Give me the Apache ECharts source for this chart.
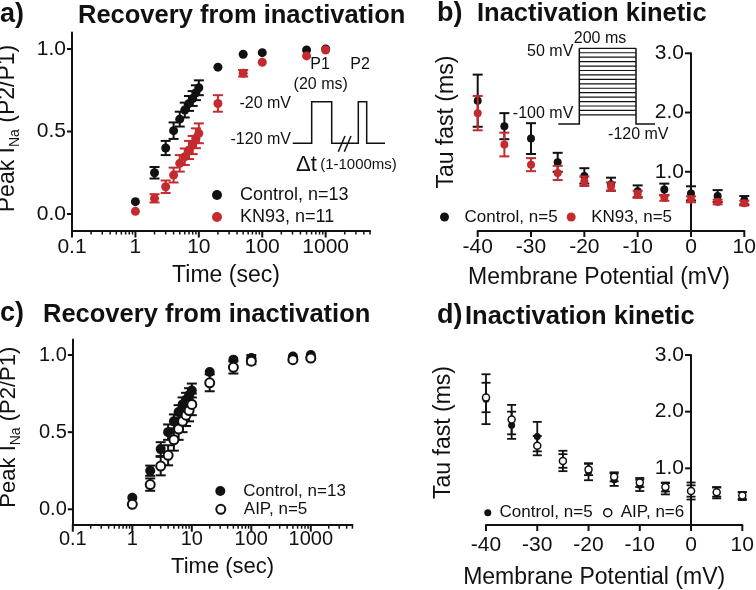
<!DOCTYPE html>
<html><head><meta charset="utf-8">
<script src="https://cdn.jsdelivr.net/npm/echarts@6/dist/echarts.min.js"></script>
<style>html,body{margin:0;padding:0;background:#fff}#c{width:756px;height:590px}</style>
</head><body><div id="c"></div>
<script>
const FONT = '"Liberation Sans", Arial, Helvetica, sans-serif';
const BLACK = '#111111';
const RED = '#c42a2e';

// ---- Panels a & c : recovery from inactivation ----
const recoveryTimes = [1, 2, 3, 4, 5, 6, 7, 8, 9, 10, 20, 50, 100, 500, 1000];
const controlRecA    = [0.075, 0.25, 0.40, 0.505, 0.575, 0.63, 0.67, 0.70, 0.735, 0.765, 0.89, 0.968, 0.978, 0.994, 1.0];
const controlRecAErr = [0, 0.035, 0.043, 0.05, 0.045, 0.045, 0.045, 0.045, 0.045, 0.045, 0, 0, 0, 0, 0];
const kn93RecA       = [0.016, 0.095, 0.165, 0.236, 0.307, 0.347, 0.388, 0.418, 0.459, 0.489, 0.67, 0.853, 0.92, 0.958, 0.994];
const kn93RecAErr    = [0, 0.025, 0.038, 0.045, 0.05, 0.05, 0.055, 0.055, 0.06, 0.06, 0.05, 0.02, 0, 0, 0];

const controlRecC    = [0.075, 0.25, 0.39, 0.50, 0.57, 0.63, 0.68, 0.71, 0.74, 0.77, 0.89, 0.97, 0.98, 0.99, 1.0];
const controlRecCErr = [0, 0.033, 0.045, 0.05, 0.045, 0.045, 0.045, 0.045, 0.045, 0.045, 0, 0, 0.02, 0, 0];
const aipRecC        = [0.032, 0.16, 0.28, 0.35, 0.45, 0.52, 0.57, 0.61, 0.64, 0.68, 0.82, 0.92, 0.96, 0.97, 0.98];
const aipRecCErr     = [0, 0.04, 0.06, 0.065, 0.07, 0.07, 0.07, 0.07, 0.07, 0.07, 0.055, 0.04, 0.02, 0.01, 0.01];

const logMajorTicks = [0.1, 1, 10, 100, 1000];
const logMinorTicks = [0.2, 0.3, 0.4, 0.5, 0.6, 0.7, 0.8, 0.9, 2, 3, 4, 5, 6, 7, 8, 9,
  20, 30, 40, 50, 60, 70, 80, 90, 200, 300, 400, 500, 600, 700, 800, 900, 2000, 3000, 4000, 5000];
const recoveryYTicks = [0, 0.5, 1.0];

// ---- Panels b & d : inactivation kinetic ----
const potentials   = [-40, -35, -30, -25, -20, -15, -10, -5, 0, 5, 10];
const controlTauB    = [2.20, 1.77, 1.56, 1.16, 0.93, 0.79, 0.67, 0.70, 0.635, 0.59, 0.52];
const controlTauBErr = [0.44, 0.22, 0.26, 0.16, 0.13, 0.11, 0.10, 0.10, 0.12, 0.10, 0.07];
const kn93TauB       = [1.99, 1.46, 1.12, 0.98, 0.84, 0.75, 0.62, 0.56, 0.535, 0.49, 0.47];
const kn93TauBErr    = [0.29, 0.20, 0.11, 0.12, 0.08, 0.07, 0.06, 0.05, 0.05, 0.04, 0.04];

const controlTauD    = [2.22, 1.76, 1.56, 1.13, 0.94, 0.80, 0.70, 0.64, 0.60, 0.57, 0.51];
const controlTauDErr = [0.44, 0.24, 0.26, 0.18, 0.15, 0.11, 0.10, 0.10, 0.15, 0.10, 0.07];
const aipTauD        = [2.25, 1.86, 1.40, 1.13, 0.98, 0.85, 0.75, 0.67, 0.60, 0.58, 0.52];
const aipTauDErr     = [0.26, 0.26, 0.17, 0.12, 0.10, 0.08, 0.08, 0.08, 0.10, 0.08, 0.06];
const tauYTicks = [1, 2, 3];
const mvTicks = [-40, -30, -20, -10, 0, 10];

// ---------------------------------------------
const chart = echarts.init(document.getElementById('c'), null, {renderer: 'canvas'});

function errSeries(name, xi, yi, xs, vals, errs, color, cap, lw, z) {
  return {
    type: 'custom', name: name, xAxisIndex: xi, yAxisIndex: yi, z: z,
    encode: {x: 0, y: [1, 2]}, silent: true,
    data: xs.map((x, i) => [x, vals[i] - errs[i], vals[i] + errs[i]]),
    renderItem: function (params, api) {
      const x = api.value(0), lo = api.value(1), hi = api.value(2);
      if (hi - lo < 1e-9) return null;
      const t = api.coord([x, hi]), b = api.coord([x, lo]);
      const st = {stroke: color, lineWidth: lw};
      return {type: 'group', children: [
        {type: 'line', shape: {x1: t[0], y1: t[1], x2: b[0], y2: b[1]}, style: st},
        {type: 'line', shape: {x1: t[0] - cap, y1: t[1], x2: t[0] + cap, y2: t[1]}, style: st},
        {type: 'line', shape: {x1: b[0] - cap, y1: b[1], x2: b[0] + cap, y2: b[1]}, style: st}
      ]};
    }
  };
}
function dotSeries(name, xi, yi, xs, vals, size, style, z) {
  return {type: 'scatter', name: name, xAxisIndex: xi, yAxisIndex: yi, z: z,
    symbol: 'circle', symbolSize: size, itemStyle: Object.assign({opacity: 1}, style), silent: true,
    data: xs.map((x, i) => [x, vals[i]])};
}
// axis tick marks placed through the axis scales (value -> pixel), drawn outward by (dx, dy)
function tickSeries(xi, yi, points, dx, dy, lw) {
  return {
    type: 'custom', name: 'ticks', xAxisIndex: xi, yAxisIndex: yi, z: 6, silent: true, clip: false,
    encode: {x: 0, y: 1},
    data: points,
    renderItem: function (params, api) {
      const p = api.coord([api.value(0), api.value(1)]);
      return {type: 'line', shape: {x1: p[0], y1: p[1], x2: p[0] + dx, y2: p[1] + dy},
        style: {stroke: BLACK, lineWidth: lw}};
    }
  };
}

const axisLineStyle = {color: BLACK, width: 2};
function logX(grid, fs, margin, gap, namePad) {
  return {
    type: 'log', logBase: 10, gridIndex: grid, min: 0.1, max: 5000, position: 'bottom',
    axisLine: {onZero: false, lineStyle: axisLineStyle},
    axisTick: {show: false},
    axisLabel: {customValues: logMajorTicks, fontSize: fs, fontFamily: FONT, color: BLACK, margin: margin,
      formatter: v => (v < 1 ? v.toFixed(1) : String(Math.round(v)))},
    splitLine: {show: false},
    name: 'Time (sec)', nameLocation: 'middle', nameGap: gap,
    nameTextStyle: {fontSize: fs + 2, fontFamily: FONT, color: BLACK, padding: namePad}
  };
}
function recY(grid, fs, gap, namePad) {
  return {
    type: 'value', gridIndex: grid, min: -0.1, max: 1.1,
    axisLine: {show: true, onZero: false, lineStyle: axisLineStyle},
    axisTick: {show: false},
    axisLabel: {customValues: recoveryYTicks, fontSize: fs, fontFamily: FONT, color: BLACK, margin: 6,
      formatter: v => v.toFixed(1)},
    splitLine: {show: false},
    name: 'Peak I{sub|Na} (P2/P1)', nameLocation: 'middle', nameGap: gap,
    nameTextStyle: {fontSize: fs + 2, fontFamily: FONT, color: BLACK, padding: namePad,
      rich: {sub: {fontSize: Math.round((fs + 2) * 0.62), fontFamily: FONT, color: BLACK, verticalAlign: 'bottom', padding: [0, 0, -3, 0]}}}
  };
}
function mvX(grid, fs, margin, gap, namePad) {
  return {
    type: 'value', gridIndex: grid, min: -40, max: 10, interval: 10, position: 'bottom',
    axisLine: {onZero: false, lineStyle: axisLineStyle},
    axisTick: {show: false},
    axisLabel: {fontSize: fs, fontFamily: FONT, color: BLACK, margin: margin},
    splitLine: {show: false},
    name: 'Membrane Potential (mV)', nameLocation: 'middle', nameGap: gap,
    nameTextStyle: {fontSize: fs + 2, fontFamily: FONT, color: BLACK, padding: namePad}
  };
}
// y axis drawn at x = 0 mV (offset from the grid's left edge)
function tauY(grid, fs, gap, namePad, offset) {
  return {
    type: 'value', gridIndex: grid, min: 0, max: 3, position: 'left', offset: offset,
    axisLine: {show: true, onZero: false, lineStyle: axisLineStyle},
    axisTick: {show: false},
    axisLabel: {customValues: tauYTicks, fontSize: fs, fontFamily: FONT, color: BLACK, margin: 7,
      formatter: v => v.toFixed(1)},
    splitLine: {show: false},
    name: 'Tau fast (ms)', nameLocation: 'middle', nameGap: gap,
    nameTextStyle: {fontSize: fs + 2, fontFamily: FONT, color: BLACK, padding: namePad}
  };
}
function legendItem(name, left, top, iw, ih, fs, itemStyle) {
  const d = {name: name, icon: 'circle'};
  if (itemStyle) d.itemStyle = itemStyle;
  return {data: [d], left: left, top: top, itemWidth: iw, itemHeight: ih, padding: 0,
    selectedMode: false, textStyle: {fontSize: fs, fontFamily: FONT, color: BLACK}};
}
function titleItem(text, left, top, fs) {
  return {text: text, left: left, top: top, padding: 0,
    textStyle: {fontSize: fs, fontWeight: 'bold', fontFamily: FONT, color: BLACK}};
}

const thin = {stroke: BLACK, lineWidth: 1.5, fill: null};
function txt(text, x, y, fs, align) {
  return {type: 'text', x: x, y: y, silent: true,
    style: {text: text, fontSize: fs, fontFamily: FONT, fill: BLACK, align: align || 'center', verticalAlign: 'middle'}};
}
const stepLines = [];
for (let i = 0; i < 16; i++) {
  const y = 48.3 + i * 4.44;
  stepLines.push({type: 'line', silent: true, shape: {x1: 579.3, y1: y, x2: 636, y2: y}, style: {stroke: BLACK, lineWidth: 1.2}});
}

const option = {
  backgroundColor: '#ffffff',
  animation: false,
  textStyle: {fontFamily: FONT},
  grid: [
    {left: 72, top: 32.5, width: 298, height: 198, outerBoundsMode: 'none'},
    {left: 477.7, top: 53.3, width: 266.6, height: 177.7, outerBoundsMode: 'none'},
    {left: 72.8, top: 339.6, width: 279.6, height: 185.1, outerBoundsMode: 'none'},
    {left: 486, top: 355, width: 256.3, height: 170, outerBoundsMode: 'none'}
  ],
  xAxis: [
    logX(0, 21, 6.5, 33.5, [0, 0, 0, 10]),
    mvX(1, 21, 6, 35, [0, 24, 0, 0]),
    logX(2, 20, 4.5, 31, [0, 0, 0, 20]),
    mvX(3, 21, 10, 41, [0, 40, 0, 0])
  ],
  yAxis: [
    recY(0, 21, 53, [0, 0, 0, 6]),
    tauY(1, 21, 233, [0, 0, 0, 40], -213.3),
    recY(2, 20, 53, [0, 0, 0, 10]),
    tauY(3, 21, 236, [0, 0, 0, 15], -205)
  ],
  title: [
    titleItem('a)', 0, 1, 27), titleItem('Recovery from inactivation', 78, 3, 25.5),
    titleItem('b)', 437, 0, 27), titleItem('Inactivation kinetic', 477, 1, 25.5),
    titleItem('c)', 0, 300, 27), titleItem('Recovery from inactivation', 43, 302, 25.5),
    titleItem('d)', 437, 302, 27), titleItem('Inactivation kinetic', 465, 304, 25.5)
  ],
  legend: [
    legendItem('Control, n=13', 212, 186, 36, 10, 18),
    legendItem('KN93, n=11', 212, 208, 36, 10, 18),
    legendItem('Control, n=5', 440, 208.5, 30, 9, 17),
    legendItem('KN93, n=5', 566.7, 208.5, 30, 9, 17),
    legendItem('Control, n=13 ', 215.3, 482.5, 36, 10, 17),
    legendItem('AIP, n=5', 215.3, 500.8, 36, 9, 17, {color: '#fff', borderColor: BLACK, borderWidth: 2}),
    legendItem('Control, n=5 ', 484.3, 504.2, 13.4, 7, 17),
    legendItem('AIP, n=6', 603, 504.2, 16, 8, 17, {color: '#fff', borderColor: BLACK, borderWidth: 1.5})
  ],
  series: [
    // axis ticks
    tickSeries(0, 0, logMajorTicks.map(v => [v, -0.1]), 0, 7, 2),
    tickSeries(0, 0, logMinorTicks.map(v => [v, -0.1]), 0, 4, 1.5),
    tickSeries(0, 0, recoveryYTicks.map(v => [0.1, v]), -5, 0, 2),
    tickSeries(2, 2, logMajorTicks.map(v => [v, -0.1]), 0, 7, 2),
    tickSeries(2, 2, logMinorTicks.map(v => [v, -0.1]), 0, 4, 1.5),
    tickSeries(2, 2, recoveryYTicks.map(v => [0.1, v]), -5, 0, 2),
    tickSeries(1, 1, mvTicks.map(v => [v, 0]), 0, 6, 2),
    tickSeries(1, 1, tauYTicks.map(v => [0, v]), -6, 0, 2),
    tickSeries(3, 3, mvTicks.map(v => [v, 0]), 0, 6, 2),
    tickSeries(3, 3, tauYTicks.map(v => [0, v]), -6, 0, 2),
    // panel a
    errSeries('a-ctrl-err', 0, 0, recoveryTimes, controlRecA, controlRecAErr, BLACK, 5, 2, 2),
    dotSeries('Control, n=13', 0, 0, recoveryTimes, controlRecA, 9, {color: BLACK}, 3),
    errSeries('a-kn-err', 0, 0, recoveryTimes, kn93RecA, kn93RecAErr, RED, 5, 2, 4),
    dotSeries('KN93, n=11', 0, 0, recoveryTimes, kn93RecA, 9, {color: RED}, 5),
    // panel b
    errSeries('b-ctrl-err', 1, 1, potentials, controlTauB, controlTauBErr, BLACK, 5, 2, 2),
    dotSeries('Control, n=5', 1, 1, potentials, controlTauB, 8, {color: BLACK}, 3),
    errSeries('b-kn-err', 1, 1, potentials, kn93TauB, kn93TauBErr, RED, 5, 2, 4),
    dotSeries('KN93, n=5', 1, 1, potentials, kn93TauB, 8, {color: RED}, 5),
    // panel c
    errSeries('c-ctrl-err', 2, 2, recoveryTimes, controlRecC, controlRecCErr, BLACK, 5, 2, 2),
    dotSeries('Control, n=13 ', 2, 2, recoveryTimes, controlRecC, 10, {color: BLACK}, 3),
    errSeries('c-aip-err', 2, 2, recoveryTimes, aipRecC, aipRecCErr, BLACK, 5, 2, 4),
    dotSeries('AIP, n=5', 2, 2, recoveryTimes, aipRecC, 9, {color: '#fff', borderColor: BLACK, borderWidth: 2}, 5),
    // panel d
    errSeries('d-ctrl-err', 3, 3, potentials, controlTauD, controlTauDErr, BLACK, 4.5, 1.8, 2),
    dotSeries('Control, n=5 ', 3, 3, potentials, controlTauD, 7, {color: BLACK}, 3),
    errSeries('d-aip-err', 3, 3, potentials, aipTauD, aipTauDErr, BLACK, 4.5, 1.8, 4),
    dotSeries('AIP, n=6', 3, 3, potentials, aipTauD, 7, {color: '#fff', borderColor: BLACK, borderWidth: 1.5}, 5)
  ],
  graphic: [
    // panel a inset: pulse protocol
    txt('P1', 320, 65, 16), txt('P2', 360, 65, 16), txt('(20 ms)', 320.7, 85, 16),
    txt('-20 mV', 291, 104, 16, 'right'), txt('-120 mV', 291, 140, 16, 'right'),
    {type: 'polyline', silent: true, shape: {points: [[292.7,143.3],[311.7,143.3],[311.7,101.7],[331.7,101.7],[331.7,143.3],[358.3,143.3],[358.3,101.7],[366.7,101.7],[366.7,143.3],[385,143.3]]}, style: thin},
    {type: 'line', silent: true, shape: {x1: 338.3, y1: 151.7, x2: 345, y2: 136}, style: thin},
    {type: 'line', silent: true, shape: {x1: 344.3, y1: 151.7, x2: 351, y2: 136}, style: thin},
    {type: 'text', x: 296, y: 165, silent: true, style: {text: '{big|Δt} {sm|(1-1000ms)}', fontFamily: FONT, fill: BLACK, verticalAlign: 'middle',
      rich: {big: {fontSize: 22, fontFamily: FONT, fill: BLACK}, sm: {fontSize: 15, fontFamily: FONT, fill: BLACK}}}},
    // panel b inset: step protocol
    txt('200 ms', 600, 38.3, 16), txt('50 mV', 573.3, 51.7, 16, 'right'),
    txt('-100 mV', 573.3, 113.3, 16, 'right'), txt('-120 mV', 638.3, 135, 16),
    {type: 'polyline', silent: true, shape: {points: [[558.3,124],[579.3,124],[579.3,48.3]]}, style: thin},
    {type: 'polyline', silent: true, shape: {points: [[636,48.3],[636,124],[655,124]]}, style: thin}
  ].concat(stepLines)
};
chart.setOption(option);
</script></body></html>
